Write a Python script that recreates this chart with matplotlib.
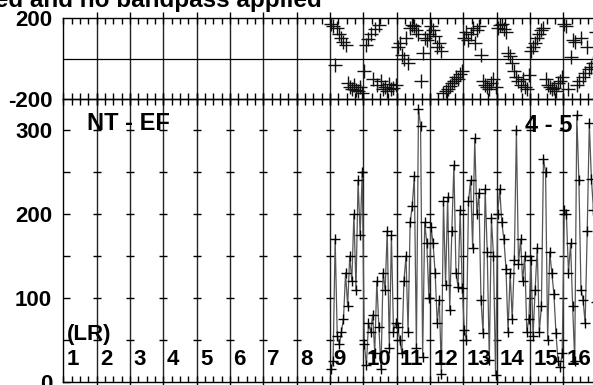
import matplotlib
matplotlib.use("Agg")
import matplotlib.pyplot as plt
import numpy as np

plt.rcParams['font.family'] = ['Liberation Sans', 'DejaVu Sans']
plt.rcParams['font.weight'] = 'bold'

# ---- data (16 channels per IF, IFs 9-16 carry data; IFs 1-8 flagged) ----
n_if = 16
n_chan = 16
if_labels = [str(i) for i in range(1, 17)]
baseline_label = "NT - EF"
pol_label = "(LR)"
stokes_label = "4 - 5"
title = "Data calibrated and no bandpass applied"

amp_if9 = [15, 25, 170, 55, 45, 60, 75, 130, 90, 150, 120, 200, 110, 240, 175, 250]
amp_if10 = [45, 20, 70, 60, 80, 35, 120, 65, 15, 130, 110, 180, 40, 175, 60, 70]
amp_if11 = [65, 50, 35, 120, 150, 60, 190, 210, 245, 40, 325, 305, 30, 190, 165, 100]
amp_if12 = [185, 165, 130, 70, 98, 10, 215, 115, 220, 86, 180, 258, 130, 113, 205, 112]
amp_if13 = [62, 50, 215, 240, 160, 290, 200, 225, 98, 58, 230, 155, 26, 195, 150, 8]
amp_if14 = [200, 230, 190, 170, 135, 60, 130, 75, 145, 300, 140, 170, 120, 150, 60, 75]
amp_if15 = [145, 55, 110, 160, 60, 90, 265, 250, 50, 155, 130, 105, 58, 25, 18, 35]
amp_if16 = [205, 200, 130, 165, 90, 25, 318, 240, 110, 98, 70, 180, 308, 242, 205, 95]

ph_if9 = [170, 160, -30, 150, 120, 100, 85, 70, -120, -140, -150, -130, -155, -160, -140, -170]
ph_if10 = [-60, 70, 95, 120, -100, 145, -130, 165, -110, -150, -140, -160, -125, -150, -145, -130]
ph_if11 = [60, 80, 20, 0, 100, -20, 150, 165, 160, 140, 120, -110, 30, 100, 90, 120]
ph_if12 = [160, 140, 110, 60, 80, 40, -170, -160, -150, -135, -120, -110, -90, -100, -75, -60]
ph_if13 = [100, 130, 90, 120, 150, 80, 140, 160, 20, -110, -130, -140, -150, -120, -100, -140]
ph_if14 = [150, 165, 170, 145, 130, 30, 15, -20, -60, -90, -110, -130, -100, -140, -150, -80]
ph_if15 = [40, 60, 80, 100, 120, 140, 150, -100, -130, -140, -150, -145, -160, -120, -110, -90]
ph_if16 = [170, 160, -150, 10, 90, 85, -130, -110, 100, -90, -70, 60, -50, -40, -20, 130]

amps = amp_if9 + amp_if10 + amp_if11 + amp_if12 + amp_if13 + amp_if14 + amp_if15 + amp_if16
phases = ph_if9 + ph_if10 + ph_if11 + ph_if12 + ph_if13 + ph_if14 + ph_if15 + ph_if16
first_chan = 8 * n_chan + 1
chans = np.arange(first_chan, first_chan + len(amps))

FS = 16

# ---- figure ----
W, H = 593, 385
fig = plt.figure(figsize=(W / 100, H / 100), dpi=100)
left = 63.3 / W
width = 533.3 / W
ax_p = fig.add_axes([left, 1 - 99 / H, width, 80.7 / H])
ax_a = fig.add_axes([left, 1 - 382 / H, width, 283 / H])

xlim = (0.5, n_if * n_chan + 0.5)
bounds = [i * n_chan + 0.5 for i in range(1, n_if)]
minor = [i * 4 + 0.5 for i in range(0, n_if * 4 + 1)]

for ax in (ax_p, ax_a):
    ax.set_xlim(*xlim)
    ax.set_xticks(bounds)
    ax.set_xticks(minor, minor=True)
    ax.tick_params(axis='x', which='major', direction='inout', length=8, width=1,
                   top=True, bottom=True, labelbottom=False, labeltop=False)
    ax.tick_params(axis='x', which='minor', direction='in', length=4, width=1,
                   top=True, bottom=True)
    for b in bounds:
        ax.axvline(b, color='#222222', lw=1.0, zorder=1)
    for s in ax.spines.values():
        s.set_linewidth(1.0)
        s.set_color('black')
    ax.set_facecolor('none')

# phase panel
ax_p.set_ylim(-200, 200)
ax_p.set_yticks([-200, 200])
ax_p.set_yticklabels(['-200', '200'])
ax_p.tick_params(axis='y', direction='in', length=0, pad=8, labelsize=FS)
ax_p.axhline(0, color='black', lw=0.9, zorder=1)
ax_p.plot(chans, phases, linestyle='none', marker='+', markersize=9.5,
          markeredgewidth=1.0, color='#111111', zorder=3, clip_on=True)

# amplitude panel
ax_a.set_ylim(0, 337)
ax_a.set_yticks([0, 100, 200, 300])
ax_a.set_yticks([50, 150, 250], minor=True)
ax_a.tick_params(axis='y', which='both', direction='in', length=5, width=1,
                 pad=8, labelsize=FS)
grid_levels = [50, 100, 150, 200, 250, 300]
gx = [b for b in bounds for _ in grid_levels]
gy = [g for _ in bounds for g in grid_levels]
ax_a.plot(gx, gy, linestyle='none', marker='_', markersize=6, markeredgewidth=1.0,
          color='black', zorder=2)
ax_a.plot(chans, amps, color='#555555', lw=0.9, zorder=3)
ax_a.plot(chans, amps, linestyle='none', marker='+', markersize=7.5,
          markeredgewidth=1.0, color='black', zorder=4)

for lbl in ax_p.get_yticklabels() + ax_a.get_yticklabels():
    lbl.set_fontweight('bold')

# text labels
ax_a.text(0.5 + 0.71 * n_chan, 308, baseline_label, fontsize=17, fontweight='bold',
          ha='left', va='center', zorder=5)
ax_a.text(0.5 + 15.26 * n_chan, 306, stokes_label, fontsize=17, fontweight='bold',
          ha='right', va='center', zorder=5)
ax_a.text(0.5 + 0.11 * n_chan, 57, pol_label, fontsize=FS, fontweight='bold',
          ha='left', va='center', zorder=5)
for i, lab in enumerate(if_labels):
    ax_a.text(0.5 + (i + 0.1) * n_chan, 20, lab, fontsize=FS, fontweight='bold',
              ha='left', va='baseline', zorder=5)

fig.text(322 / W, 1 - 6.5 / H, title, fontsize=17.5, fontweight='bold',
         ha='right', va='baseline')

fig.savefig('out.png', dpi=100)
